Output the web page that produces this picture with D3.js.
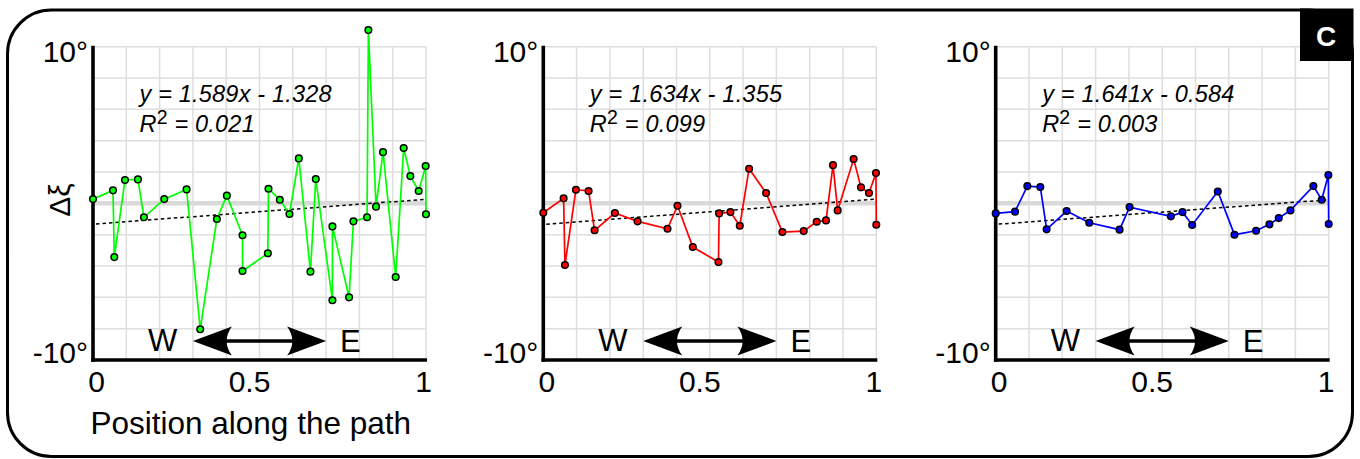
<!DOCTYPE html>
<html>
<head>
<meta charset="utf-8">
<script src="https://cdn.jsdelivr.net/npm/d3@7"></script>
<style>
  body { margin: 0; background: #fff; }
  svg { display: block; font-family: "Liberation Sans", Arial, sans-serif; }
</style>
</head>
<body>
<svg id="chart" width="1360" height="459"></svg>
<script>
// position along the path (0 = W, 1 = E) and deviation in degrees
const greenPos = [0, 0.06, 0.064, 0.096, 0.135, 0.153, 0.214, 0.281, 0.322, 0.372, 0.402, 0.449, 0.449,
  0.525, 0.527, 0.561, 0.59, 0.618, 0.653, 0.669, 0.719, 0.719, 0.769, 0.782, 0.823, 0.827, 0.85,
  0.871, 0.909, 0.933, 0.953, 0.978, 0.999, 1.0];
const greenVal = [0.27, 0.83, -3.43, 1.49, 1.53, -0.89, 0.27, 0.89, -8.04, -1.0, 0.49, -2.04, -4.32,
  -3.19, 0.93, 0.23, -0.68, 2.87, -4.36, 1.55, -6.19, -1.47, -6.0, -1.15, -0.89, 11.06, -0.21,
  3.27, -4.70, 3.53, 1.74, 0.79, 2.38, -0.70];

const redPos = [0, 0.061, 0.065, 0.098, 0.136, 0.154, 0.215, 0.283, 0.373, 0.403, 0.449, 0.526, 0.528,
  0.562, 0.59, 0.618, 0.669, 0.718, 0.782, 0.821, 0.849, 0.87, 0.884, 0.932, 0.954, 0.978, 0.999, 1.0];
const redVal = [-0.60, 0.32, -3.94, 0.87, 0.79, -1.72, -0.62, -1.15, -1.62, -0.15, -2.79, -3.75, -0.64,
  -0.56, -1.43, 2.21, 0.66, -1.83, -1.77, -1.17, -1.09, 2.44, -0.45, 2.83, 1.02, 0.66, 1.93, -1.37];

const bluePos = [0, 0.058, 0.095, 0.134, 0.153, 0.213, 0.281, 0.372, 0.402, 0.526, 0.561, 0.59, 0.667,
  0.717, 0.782, 0.822, 0.85, 0.885, 0.954, 0.979, 0.999, 1.0];
const blueVal = [-0.64, -0.53, 1.10, 1.04, -1.66, -0.49, -1.24, -1.68, -0.24, -0.83, -0.56, -1.38, 0.76,
  -2.0, -1.75, -1.34, -0.94, -0.45, 1.10, 0.23, 1.81, -1.32];

// fit labels, and the dotted line as drawn (value at x=0 and x=1)
const fitLabels = ["y = 1.589x - 1.328", "y = 1.634x - 1.355", "y = 1.641x - 0.584"];
const r2Labels = ["0.021", "0.099", "0.003"];
const trendEnds = [[-1.328, 0.261], [-1.355, 0.279], [-1.34, 0.23]];

const xTicks = [0, 0.5, 1];
const xTickLabels = ["0", "0.5", "1"];
const yTickLabels = ["10°", "-10°"];

const panels = [
  { pos: greenPos, val: greenVal, color: "#00ff00", left: 93 },
  { pos: redPos, val: redVal, color: "#ff0000", left: 543.3 },
  { pos: bluePos, val: blueVal, color: "#0000ff", left: 995.7 }
];

const svg = d3.select("#chart");
const plotW = 333, plotTop = 46.7, plotBottom = 360;

// outer rounded frame
svg.append("rect")
  .attr("x", 7.5).attr("y", 10)
  .attr("width", 1345).attr("height", 446.5)
  .attr("rx", 44).attr("ry", 44)
  .attr("fill", "none")
  .attr("stroke", "#000")
  .attr("stroke-width", 3);

function arrowHead(tipX, dir, y) {
  // dir = 1 points left (tip on the left), -1 points right
  let back = tipX + dir * 39;
  let mid = tipX + dir * 28.5;
  return "M" + tipX + "," + y +
    "L" + back + "," + (y - 14.6) +
    "Q" + mid + "," + y + " " + back + "," + (y + 14.6) + "Z";
}

panels.forEach((p, i) => {
  let x = d3.scaleLinear().domain([0, 1]).range([p.left, p.left + plotW]);
  let y = d3.scaleLinear().domain([-10, 10]).range([plotBottom, plotTop]);

  let g = svg.append("g");

  // grid
  g.append("g")
    .selectAll("line")
    .data(d3.range(0, 11).map(k => k / 10))
    .join("line")
    .attr("x1", d => x(d)).attr("x2", d => x(d))
    .attr("y1", plotTop).attr("y2", plotBottom)
    .attr("stroke", "#dedede")
    .attr("stroke-width", 1.5);

  g.append("g")
    .selectAll("line")
    .data(d3.range(-10, 11, 2))
    .join("line")
    .attr("x1", x(0)).attr("x2", x(1))
    .attr("y1", d => y(d)).attr("y2", d => y(d))
    .attr("stroke", "#dedede")
    .attr("stroke-width", 1.5);

  // zero line
  g.append("line")
    .attr("x1", x(0)).attr("x2", x(1))
    .attr("y1", y(0)).attr("y2", y(0))
    .attr("stroke", "#d9d9d9")
    .attr("stroke-width", 4.5);

  // trend line
  g.append("line")
    .attr("x1", x(0) + 3).attr("x2", x(1))
    .attr("y1", y(trendEnds[i][0] + (trendEnds[i][1] - trendEnds[i][0]) * 3 / plotW))
    .attr("y2", y(trendEnds[i][1]))
    .attr("stroke", "#000")
    .attr("stroke-width", 1.5)
    .attr("stroke-dasharray", "3.5,3");

  // axes
  g.append("line")
    .attr("x1", x(0)).attr("x2", x(0))
    .attr("y1", plotTop - 1).attr("y2", plotBottom + 1.8)
    .attr("stroke", "#000")
    .attr("stroke-width", 3.6);

  g.append("line")
    .attr("x1", x(0) - 1.8).attr("x2", x(1) + 1)
    .attr("y1", plotBottom).attr("y2", plotBottom)
    .attr("stroke", "#000")
    .attr("stroke-width", 3.6);

  g.append("text")
    .attr("x", x(0) - 5).attr("y", y(10) + 15)
    .attr("text-anchor", "end")
    .attr("font-size", 30)
    .text(yTickLabels[0]);

  g.append("text")
    .attr("x", x(0) - 5).attr("y", y(-10) + 3)
    .attr("text-anchor", "end")
    .attr("font-size", 30)
    .text(yTickLabels[1]);

  let tickShift = [3.5, -10, -2.5];
  g.selectAll(".xtick")
    .data(xTicks)
    .join("text")
    .attr("class", "xtick")
    .attr("x", (d, k) => x(d) + tickShift[k])
    .attr("y", 391.5)
    .attr("text-anchor", "middle")
    .attr("font-size", 30)
    .text((d, k) => xTickLabels[k]);

  // W <-> E arrow
  let ay = 341;
  g.append("line")
    .attr("x1", x(0.3) + 30).attr("x2", x(0.7) - 30)
    .attr("y1", ay).attr("y2", ay)
    .attr("stroke", "#000")
    .attr("stroke-width", 3.3);
  g.append("path").attr("d", arrowHead(x(0.3), 1, ay)).attr("fill", "#000");
  g.append("path").attr("d", arrowHead(x(0.7), -1, ay)).attr("fill", "#000");

  g.append("text")
    .attr("x", x(0.253)).attr("y", 350.5)
    .attr("text-anchor", "end")
    .attr("font-size", 31)
    .text("W");
  g.append("text")
    .attr("x", x(0.742)).attr("y", 351.5)
    .attr("font-size", 31)
    .text("E");

  // fit label
  g.append("text")
    .attr("x", x(0) + 46.5).attr("y", 101.5)
    .attr("font-size", 23.5)
    .attr("letter-spacing", 0.2)
    .attr("font-style", "italic")
    .text(fitLabels[i]);

  let r2 = g.append("text")
    .attr("x", x(0) + 46.5).attr("y", 132)
    .attr("font-size", 23.5)
    .attr("letter-spacing", 0.2)
    .attr("font-style", "italic");
  r2.append("tspan").text("R");
  r2.append("tspan").attr("font-size", 19.5).attr("font-style", "normal").attr("dy", -8.5).text("2");
  r2.append("tspan").attr("dy", 8.5).text(" = " + r2Labels[i]);

  // series
  let pts = p.pos.map((d, k) => [d, p.val[k]]);

  g.append("path")
    .datum(pts)
    .attr("fill", "none")
    .attr("stroke", p.color)
    .attr("stroke-width", 1.7)
    .attr("d", d3.line().x(d => x(d[0])).y(d => y(d[1])));

  g.append("g")
    .selectAll("circle")
    .data(pts)
    .join("circle")
    .attr("cx", d => x(d[0]))
    .attr("cy", d => y(d[1]))
    .attr("r", 3.3)
    .attr("fill", p.color)
    .attr("stroke", "#000")
    .attr("stroke-width", 1.5);
});

// "C" tag on top of everything
svg.append("rect")
  .attr("x", 1300).attr("y", 8.5)
  .attr("width", 53.5).attr("height", 52.5)
  .attr("fill", "#000");

svg.append("text")
  .attr("x", 1326).attr("y", 45.5)
  .attr("text-anchor", "middle")
  .attr("fill", "#fff")
  .attr("font-size", 28)
  .attr("font-weight", "bold")
  .text("C");

// labels only on the first panel
svg.append("text")
  .attr("transform", "translate(70,200) rotate(-90)")
  .attr("text-anchor", "middle")
  .attr("font-size", 30)
  .text("Δξ");

svg.append("text")
  .attr("x", 90.5).attr("y", 433.5)
  .attr("font-size", 31.5)
  .text("Position along the path");
</script>
</body>
</html>
